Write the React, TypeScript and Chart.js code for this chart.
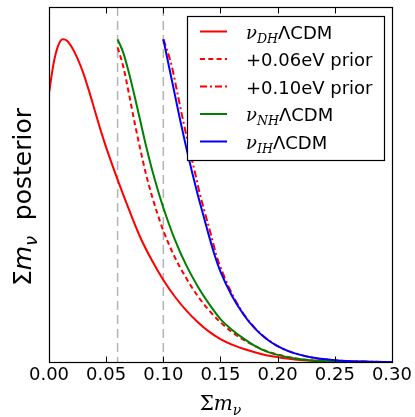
import React, { useEffect, useRef } from "react";
import { Chart, registerables } from "chart.js";

Chart.register(...registerables);

// ---- data ----
const xTicks = [0, 0.05, 0.1, 0.15, 0.2, 0.25, 0.3];
const priorLines = [0.06, 0.1];

const dhMass = [0, 0.004, 0.008, 0.012, 0.016, 0.02, 0.025, 0.03, 0.035, 0.04, 0.045, 0.05, 0.06, 0.07, 0.08, 0.09, 0.1, 0.11, 0.12, 0.13, 0.14, 0.15, 0.16, 0.17, 0.18, 0.19, 0.2, 0.215, 0.23, 0.25, 0.27, 0.3];
const dhPost = [0.833, 0.925, 0.98, 1.0, 0.995, 0.975, 0.94, 0.895, 0.84, 0.78, 0.72, 0.665, 0.565, 0.472, 0.385, 0.315, 0.254, 0.203, 0.16, 0.124, 0.094, 0.071, 0.054, 0.041, 0.03, 0.021, 0.015, 0.008, 0.004, 0.0015, 0.0005, 0];

const p06Mass = [0.06, 0.065, 0.07, 0.075, 0.08, 0.085, 0.09, 0.095, 0.1, 0.11, 0.12, 0.13, 0.14, 0.15, 0.16, 0.17, 0.18, 0.19, 0.2, 0.215, 0.23, 0.25, 0.27, 0.3];
const p06Post = [0.975, 0.915, 0.83, 0.74, 0.657, 0.58, 0.515, 0.458, 0.407, 0.325, 0.26, 0.205, 0.16, 0.123, 0.093, 0.069, 0.05, 0.034, 0.023, 0.012, 0.005, 0.0015, 0.0005, 0];

const p10Mass = [0.1, 0.1025, 0.1075, 0.1125, 0.1175, 0.1225, 0.1275, 0.132, 0.137, 0.142, 0.1465, 0.1515, 0.161, 0.1705, 0.1805, 0.1905, 0.2, 0.21, 0.22, 0.23, 0.24, 0.25, 0.26, 0.28, 0.3];
const p10Post = [1.0, 0.975, 0.915, 0.83, 0.745, 0.665, 0.59, 0.52, 0.455, 0.39, 0.33, 0.28, 0.205, 0.148, 0.104, 0.072, 0.049, 0.033, 0.022, 0.014, 0.009, 0.0055, 0.003, 0.001, 0];

const nhMass = [0.06, 0.065, 0.07, 0.075, 0.08, 0.085, 0.09, 0.095, 0.1, 0.11, 0.12, 0.13, 0.14, 0.15, 0.16, 0.17, 0.18, 0.19, 0.2, 0.215, 0.23, 0.25, 0.27, 0.3];
const nhPost = [1.0, 0.958, 0.895, 0.822, 0.745, 0.668, 0.598, 0.535, 0.478, 0.38, 0.3, 0.235, 0.18, 0.133, 0.1, 0.073, 0.05, 0.033, 0.022, 0.011, 0.005, 0.0015, 0.0005, 0];

const ihMass = [0.1, 0.105, 0.11, 0.115, 0.12, 0.125, 0.13, 0.135, 0.14, 0.145, 0.15, 0.16, 0.17, 0.18, 0.19, 0.2, 0.21, 0.22, 0.23, 0.24, 0.25, 0.26, 0.28, 0.3];
const ihPost = [1.0, 0.915, 0.83, 0.745, 0.665, 0.59, 0.52, 0.455, 0.39, 0.33, 0.28, 0.205, 0.148, 0.104, 0.072, 0.049, 0.033, 0.022, 0.014, 0.009, 0.0055, 0.003, 0.001, 0];

type Seg = { t: string; italic?: boolean; serif?: boolean; sub?: boolean };

const legendLabels: Seg[][] = [
  [{ t: "ν", italic: true, serif: true }, { t: "DH", italic: true, serif: true, sub: true }, { t: "ΛCDM" }],
  [{ t: "+0.06eV prior" }],
  [{ t: "+0.10eV prior" }],
  [{ t: "ν", italic: true, serif: true }, { t: "NH", italic: true, serif: true, sub: true }, { t: "ΛCDM" }],
  [{ t: "ν", italic: true, serif: true }, { t: "IH", italic: true, serif: true, sub: true }, { t: "ΛCDM" }],
];
const yTitle: Seg[] = [{ t: "Σ" }, { t: "m", italic: true }, { t: "ν", italic: true, sub: true }, { t: "  posterior" }];
const xTitle: Seg[] = [{ t: "Σ", serif: true }, { t: "m", italic: true, serif: true }, { t: "ν", italic: true, serif: true, sub: true }];

const SANS = "'DejaVu Sans'";
const SERIF = "'DejaVu Serif'";

function zip(m: number[], v: number[]) {
  return m.map((x, i) => ({ x, y: v[i] }));
}

function drawSegs(ctx: CanvasRenderingContext2D, segs: Seg[], x: number, y: number, size: number, align: "left" | "center") {
  const fontOf = (s: Seg) => `${s.italic ? "italic " : ""}${s.sub ? size * 0.7 : size}px ${s.serif ? SERIF : SANS}`;
  let total = 0;
  const widths = segs.map((s) => {
    ctx.font = fontOf(s);
    const w = ctx.measureText(s.t).width;
    total += w;
    return w;
  });
  let cx = align === "center" ? x - total / 2 : x;
  ctx.textAlign = "left";
  ctx.textBaseline = "alphabetic";
  segs.forEach((s, i) => {
    ctx.font = fontOf(s);
    ctx.fillText(s.t, cx, y + (s.sub ? size * 0.24 : 0));
    cx += widths[i];
  });
}

const framePlugin = {
  id: "frame",
  afterDatasetsDraw(chart: any) {
    const { ctx, chartArea } = chart;
    const xs = chart.scales.x;
    ctx.save();
    ctx.strokeStyle = "#000";
    ctx.lineWidth = 1.2;
    ctx.setLineDash([]);
    const l = Math.round(chartArea.left) + 0.5;
    const t = Math.round(chartArea.top) + 0.5;
    const r = Math.round(chartArea.right) + 0.5;
    const b = Math.round(chartArea.bottom) + 0.5;
    ctx.strokeRect(l, t, r - l, b - t);
    ctx.lineWidth = 1;
    xTicks.forEach((v) => {
      const px = Math.round(xs.getPixelForValue(v)) + 0.5;
      ctx.beginPath();
      ctx.moveTo(px, b);
      ctx.lineTo(px, b - 6);
      ctx.moveTo(px, t);
      ctx.lineTo(px, t + 6);
      ctx.stroke();
    });
    ctx.restore();
  },
};

const legendPlugin = {
  id: "mathLegend",
  afterDraw(chart: any) {
    const { ctx } = chart;
    const ds = chart.data.datasets.filter((d: any) => d.inLegend);
    const bx = 187.5, by = 16.5, bw = 197, bh = 144;
    ctx.save();
    ctx.fillStyle = "#fff";
    ctx.fillRect(bx, by, bw, bh);
    ctx.strokeStyle = "#000";
    ctx.lineWidth = 1.2;
    ctx.setLineDash([]);
    ctx.strokeRect(bx, by, bw, bh);
    ds.forEach((d: any, i: number) => {
      const yc = 31.5 + i * 27.5;
      ctx.strokeStyle = d.borderColor;
      ctx.lineWidth = 2;
      ctx.setLineDash(d.borderDash || []);
      ctx.beginPath();
      ctx.moveTo(200, yc);
      ctx.lineTo(227, yc);
      ctx.stroke();
      ctx.setLineDash([]);
      ctx.fillStyle = "#000";
      drawSegs(ctx, legendLabels[i], 246, yc + 7, 18, "left");
    });
    ctx.restore();
  },
};

const titlesPlugin = {
  id: "mathTitles",
  afterDraw(chart: any) {
    const { ctx, chartArea } = chart;
    ctx.save();
    ctx.fillStyle = "#000";
    drawSegs(ctx, xTitle, (chartArea.left + chartArea.right) / 2, 410, 20, "center");
    ctx.translate(31, 197);
    ctx.rotate(-Math.PI / 2);
    drawSegs(ctx, yTitle, 0, 0, 25, "center");
    ctx.restore();
  },
};

export default function App() {
  const ref = useRef<HTMLCanvasElement>(null);
  useEffect(() => {
    if (!ref.current) return;
    const common = { borderWidth: 2, pointRadius: 0, fill: false, cubicInterpolationMode: "monotone" as const, inLegend: true };
    const vlines = priorLines.map((v) => ({
      data: [{ x: v, y: 1.1 }, { x: v, y: 0 }],
      borderColor: "#b4b4b4",
      borderWidth: 1.5,
      borderDash: [9, 5],
      pointRadius: 0,
      fill: false,
      order: 10,
      inLegend: false,
    }));
    const chart = new Chart(ref.current, {
      type: "line",
      data: {
        datasets: [
          { ...common, label: "DH", data: zip(dhMass, dhPost), borderColor: "#ff0000", order: 5 },
          { ...common, label: "0.06", data: zip(p06Mass, p06Post), borderColor: "#ff0000", borderDash: [5, 3.3], order: 4 },
          { ...common, label: "0.10", data: zip(p10Mass, p10Post), borderColor: "#ff0000", borderDash: [7, 3, 2, 3], order: 3 },
          { ...common, label: "NH", data: zip(nhMass, nhPost), borderColor: "#008000", order: 2 },
          { ...common, label: "IH", data: zip(ihMass, ihPost), borderColor: "#0000ff", order: 1 },
          ...vlines,
        ] as any,
      },
      options: {
        animation: false,
        responsive: false,
        devicePixelRatio: 1,
        layout: { padding: { left: 49, right: 22, top: 7, bottom: 0 } },
        plugins: { legend: { display: false }, tooltip: { enabled: false } },
        scales: {
          x: {
            type: "linear",
            min: 0,
            max: 0.3,
            afterBuildTicks: (s: any) => {
              s.ticks = xTicks.map((v) => ({ value: v }));
            },
            afterFit: (s: any) => {
              s.height = 55;
            },
            grid: { display: false, drawTicks: false },
            border: { display: false },
            ticks: {
              font: { family: "DejaVu Sans", size: 18 },
              color: "#000",
              padding: 3,
              maxRotation: 0,
              autoSkip: false,
              callback: (v: any) => Number(v).toFixed(2),
            },
          },
          y: { display: false, min: 0, max: 1.1 },
        },
      } as any,
      plugins: [framePlugin, legendPlugin, titlesPlugin],
    });
    return () => chart.destroy();
  }, []);
  return (
    <div style={{ position: "fixed", left: 0, top: 0, width: 415, height: 417, background: "#fff" }}>
      <canvas ref={ref} width={415} height={417} style={{ display: "block" }} />
    </div>
  );
}
